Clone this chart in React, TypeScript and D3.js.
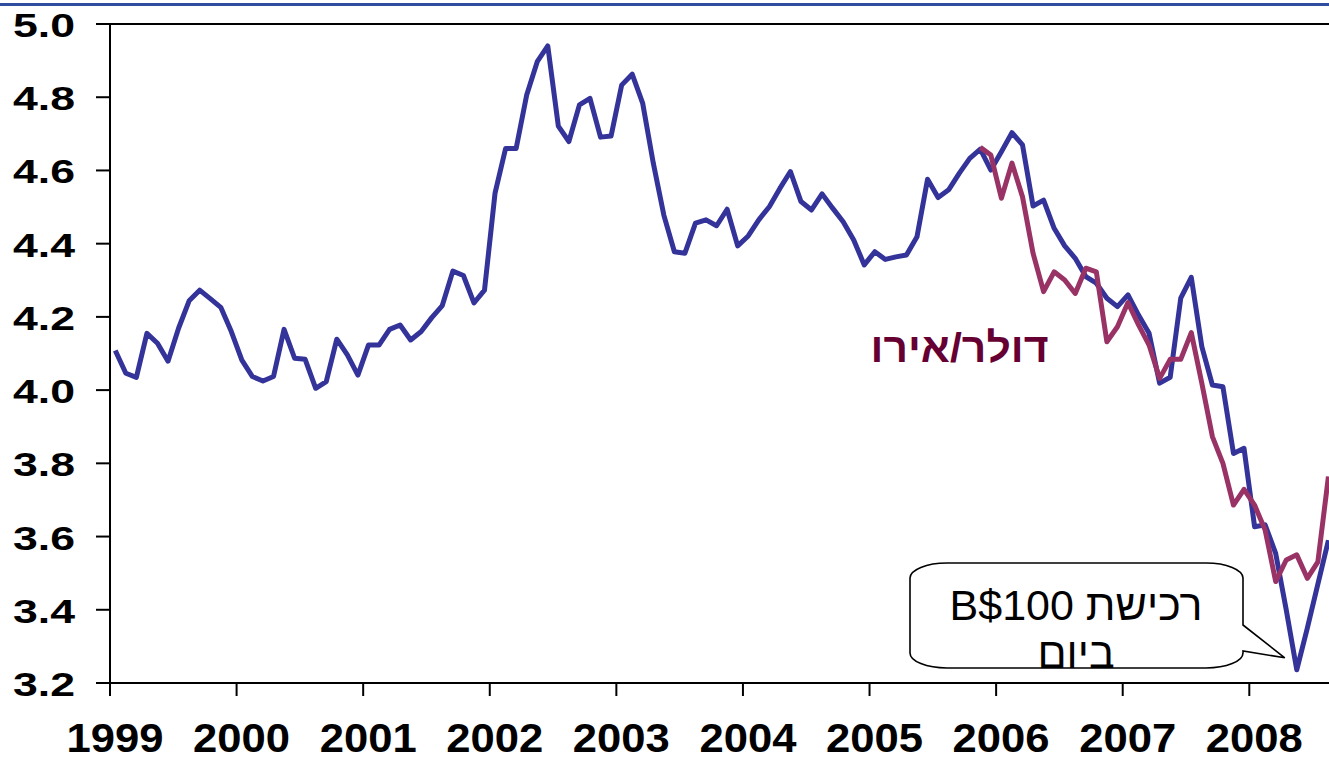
import React from "react";
import * as d3 from "d3";

const START_YEAR = 1999;
const yearTicks = [1999, 2000, 2001, 2002, 2003, 2004, 2005, 2006, 2007, 2008];
const valueTicks = [3.2, 3.4, 3.6, 3.8, 4.0, 4.2, 4.4, 4.6, 4.8, 5.0];

// Monthly USD/ILS, Jan 1999 – Aug 2008
const usdIls = [
  4.108, 4.046, 4.035, 4.155, 4.128, 4.079, 4.169, 4.244, 4.273, 4.25, 4.226, 4.16,
  4.082, 4.037, 4.025, 4.037, 4.166, 4.087, 4.084, 4.005, 4.023, 4.139, 4.096, 4.041,
  4.123, 4.123, 4.166, 4.178, 4.137, 4.16, 4.198, 4.231, 4.325, 4.313, 4.238, 4.273,
  4.538, 4.66, 4.66, 4.806, 4.897, 4.94, 4.721, 4.679, 4.779, 4.797, 4.691, 4.694,
  4.833, 4.863, 4.783, 4.62, 4.478, 4.378, 4.374, 4.456, 4.465, 4.449, 4.494, 4.394,
  4.421, 4.465, 4.501, 4.551, 4.597, 4.515, 4.492, 4.536, 4.497, 4.46, 4.41, 4.342,
  4.378, 4.357, 4.364, 4.369, 4.419, 4.576, 4.526, 4.547, 4.592, 4.633, 4.658, 4.601,
  4.651, 4.703, 4.67, 4.503, 4.519, 4.442, 4.394, 4.36, 4.31, 4.292, 4.251, 4.228,
  4.26, 4.205, 4.155, 4.019, 4.035, 4.251, 4.308, 4.119, 4.014, 4.009, 3.827, 3.841,
  3.627, 3.632, 3.554, 3.4, 3.236, 3.35, 3.47, 3.59,
];

// Dollar/Euro series (scaled), from Nov 2005
const EUR_START_INDEX = 82;
const usdEur = [
  4.663, 4.642,
  4.524, 4.62, 4.528, 4.374, 4.269, 4.323, 4.301, 4.264, 4.333, 4.323, 4.132, 4.173,
  4.239, 4.178, 4.123, 4.032, 4.084, 4.084, 4.157, 4.019, 3.873, 3.8, 3.686, 3.729,
  3.686, 3.618, 3.477, 3.536, 3.55, 3.486, 3.531, 3.764,
];

const seriesLabel = "דולר/אירו";
const calloutLine1 = "רכישת B$100";
const calloutLine2 = "ביום";

const W = 1329;
const H = 761;

export default function App() {
  const x = d3.scaleLinear().domain([1999, 2008]).range([110, 1249.3]);
  const y = d3.scaleLinear().domain([3.2, 5.0]).range([683, 24]);
  const tOf = (i: number) => START_YEAR + (i + 0.5) / 12;

  const line = d3
    .line<[number, number]>()
    .x((d) => x(d[0]))
    .y((d) => y(d[1]));

  const bluePts: [number, number][] = usdIls.map((v, i) => [tOf(i), v]);
  const purplePts: [number, number][] = usdEur.map((v, i) => [tOf(i + EUR_START_INDEX), v]);

  const font = "'Liberation Sans', Arial, 'DejaVu Sans', sans-serif";

  // callout geometry
  const bx0 = 910, bx1 = 1243, by0 = 563, by1 = 668, rx = 37, ry = 15;
  const tipX = x(tOf(112)) - 12;
  const tipY = y(usdIls[112]) - 12;
  const callout = [
    `M${bx0 + rx},${by0}`,
    `L${bx1 - rx},${by0}`,
    `A${rx},${ry} 0 0 1 ${bx1},${by0 + ry}`,
    `L${bx1},625`,
    `L${tipX},${tipY}`,
    `L${bx1},651`,
    `L${bx1},${by1 - ry}`,
    `A${rx},${ry} 0 0 1 ${bx1 - rx},${by1}`,
    `L${bx0 + rx},${by1}`,
    `A${rx},${ry} 0 0 1 ${bx0},${by1 - ry}`,
    `L${bx0},${by0 + ry}`,
    `A${rx},${ry} 0 0 1 ${bx0 + rx},${by0}`,
    "Z",
  ].join(" ");

  return (
    <svg
      width={W}
      height={H}
      style={{ position: "absolute", left: 0, top: 0, background: "#fff" }}
      fontFamily={font}
    >
      <rect x={0} y={0} width={W} height={H} fill="#fff" />
      <rect x={0} y={3} width={W} height={3} fill="#2f4d9f" />

      <defs>
        <clipPath id="boxclip">
          <rect x={bx0} y={by0} width={bx1 - bx0} height={by1 - by0 + 1} />
        </clipPath>
      </defs>

      {/* frame top + axes */}
      <line x1={96} x2={W} y1={y(5.0)} y2={y(5.0)} stroke="#000" strokeWidth={2} />
      <line x1={x(1999)} x2={x(1999)} y1={y(5.0)} y2={y(3.2)} stroke="#000" strokeWidth={2} />
      <line x1={x(1999)} x2={W} y1={y(3.2)} y2={y(3.2)} stroke="#000" strokeWidth={2} />

      {valueTicks.map((v) => (
        <g key={v}>
          <line x1={96} x2={x(1999)} y1={y(v)} y2={y(v)} stroke="#000" strokeWidth={2} />
          <text
            x={75}
            y={y(v) + 13}
            textAnchor="end"
            fontSize={33}
            fontWeight="bold"
            textLength={62}
            lengthAdjust="spacingAndGlyphs"
            fill="#000"
          >
            {v.toFixed(1)}
          </text>
        </g>
      ))}

      {yearTicks.map((yr) => (
        <g key={yr}>
          <line x1={x(yr)} x2={x(yr)} y1={y(3.2)} y2={696} stroke="#000" strokeWidth={2} />
          <text
            x={x(yr) + 5}
            y={752}
            textAnchor="middle"
            fontSize={40}
            fontWeight="bold"
            textLength={97}
            lengthAdjust="spacingAndGlyphs"
            fill="#000"
          >
            {yr}
          </text>
        </g>
      ))}

      <path
        d={line(bluePts) || ""}
        fill="none"
        stroke="#333399"
        strokeWidth={5}
        strokeLinejoin="round"
      />
      <path
        d={line(purplePts) || ""}
        fill="none"
        stroke="#993366"
        strokeWidth={5}
        strokeLinejoin="round"
      />

      <text
        x={959.5}
        y={362}
        textAnchor="middle"
        fontSize={41}
        fontWeight="bold"
        fill="#660033"
        textLength={178}
        lengthAdjust="spacingAndGlyphs"
        direction="rtl"
        style={{ direction: "rtl", unicodeBidi: "embed" }}
      >
        {seriesLabel}
      </text>

      <path d={callout} fill="#fff" stroke="#000" strokeWidth={1.6} />
      <g clipPath="url(#boxclip)">
        <text
          x={1076}
          y={620}
          textAnchor="middle"
          fontSize={43}
          fill="#000"
          direction="rtl"
          style={{ direction: "rtl", unicodeBidi: "embed" }}
        >
          {calloutLine1}
        </text>
        <text
          x={1076}
          y={668}
          textAnchor="middle"
          fontSize={43}
          fill="#000"
          direction="rtl"
          style={{ direction: "rtl", unicodeBidi: "embed" }}
        >
          {calloutLine2}
        </text>
      </g>
    </svg>
  );
}
